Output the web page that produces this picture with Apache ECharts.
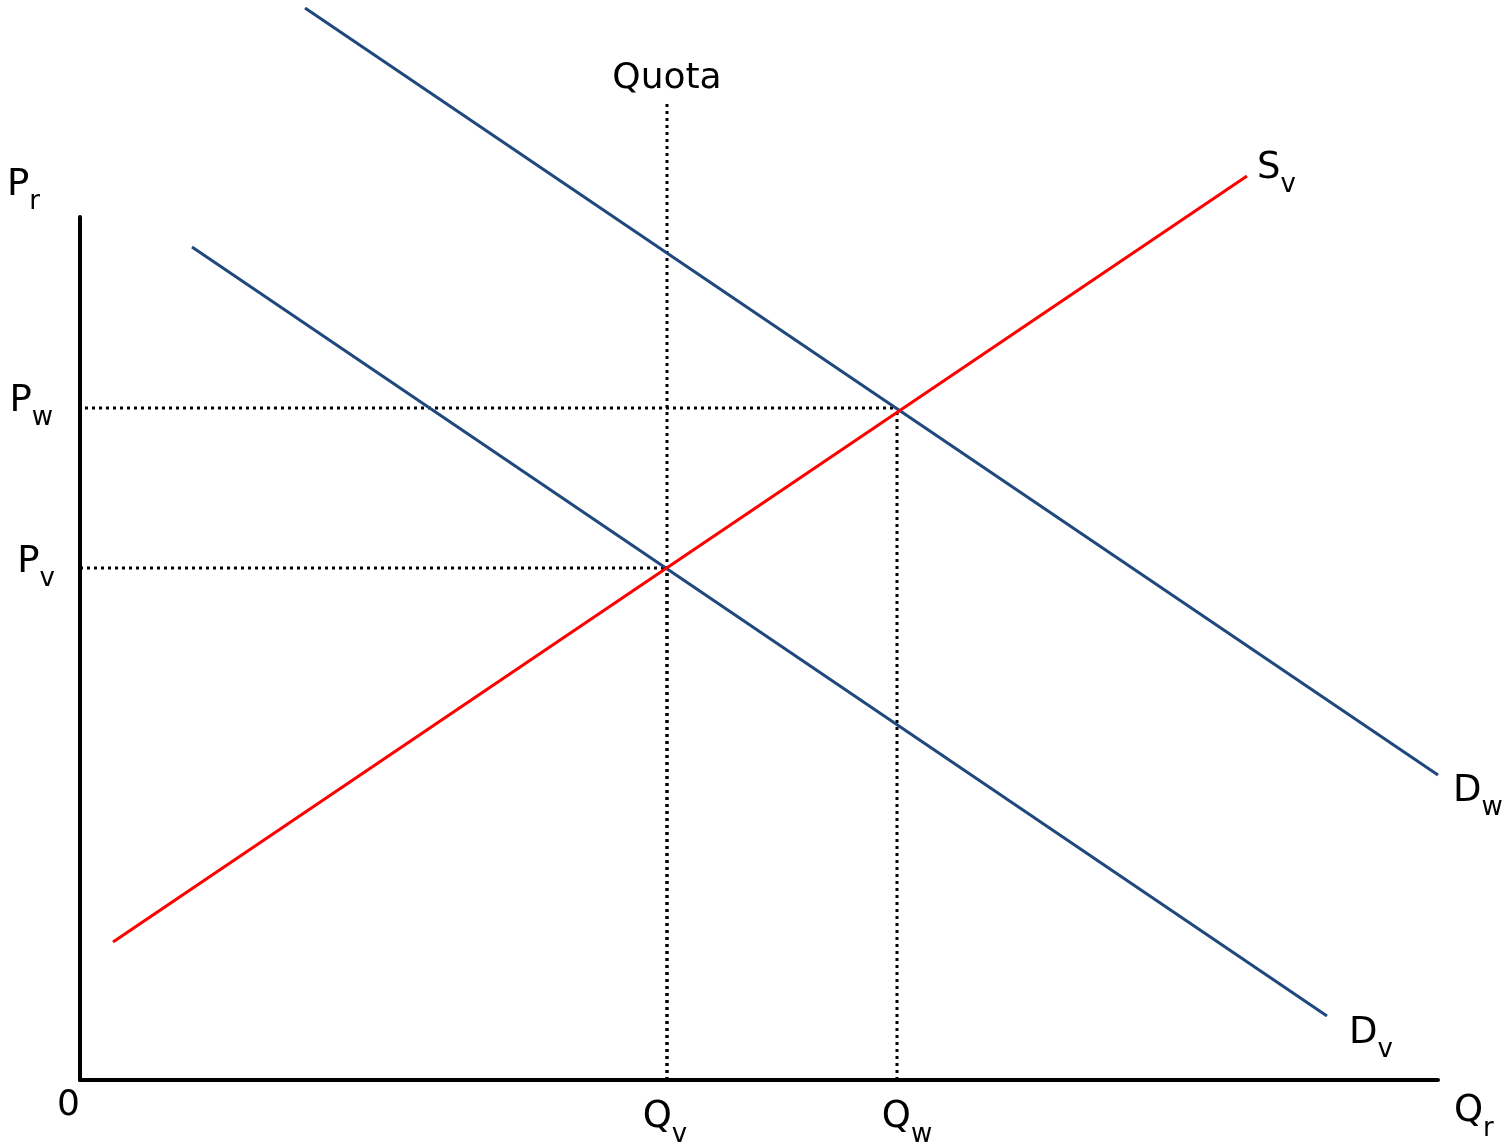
<!DOCTYPE html>
<html>
<head>
<meta charset="utf-8">
<script src="https://cdn.jsdelivr.net/npm/echarts@6/dist/echarts.min.js"></script>
<style>
  html, body { margin: 0; padding: 0; background: #fff; }
  #chart { width: 1505px; height: 1144px; }
</style>
</head>
<body>
<div id="chart"></div>
<script>
// axis ranges (quantity, price)
const qMax = 1358;
const pMax = 863;

// curves, as [quantity, price] end points
const demandWorld = [[225, 1072], [1358, 305]];
const demandVn = [[112, 833], [1247, 64]];
const supplyVn = [[33, 138], [1167, 904]];

// reference levels
const qQuota = 587;
const qWorld = 817;
const pWorld = 672;
const pVn = 512;
const quotaTop = 977;

const blue = "#1f487c";
const red = "#ff0000";
const font = "DejaVu Sans";

// main letter + subscript: main sits at the top of the line, subscript at the bottom
function sub(main, s) {
  return "{m|" + main + "}{s|" + s + "}";
}
const rich = {
  m: { fontSize: 37, fontFamily: font, color: "#000", lineHeight: 40, verticalAlign: "top" },
  s: { fontSize: 26, fontFamily: font, color: "#000", lineHeight: 49, verticalAlign: "bottom" },
};

function endLabel(text, pos, dist, offset) {
  return { show: true, formatter: text, position: pos, distance: dist, offset: offset, rich: rich };
}

function solid(name, data, color, label) {
  return {
    name: name,
    type: "line",
    data: [{ value: data[0], label: { show: false } }, { value: data[1], label: label }],
    symbol: "circle",
    symbolSize: 0.01,
    showSymbol: true,
    clip: false,
    silent: true,
    itemStyle: { color: color },
    lineStyle: { color: color, width: 3 },
    z: 3,
  };
}

function dotted(name, data) {
  return {
    name: name,
    type: "line",
    data: data,
    symbol: "circle",
    symbolSize: 0.01,
    showSymbol: true,
    clip: false,
    silent: true,
    itemStyle: { color: "#000" },
    lineStyle: { color: "#000", width: 3, type: [3, 4] },
    z: 2,
  };
}

const chart = echarts.init(document.getElementById("chart"));

chart.setOption({
  animation: false,
  backgroundColor: "#fff",
  grid: { left: 80, right: 67, top: 217, bottom: 64 },
  xAxis: {
    type: "value",
    min: 0,
    max: qMax,
    splitLine: { show: false },
    axisTick: { show: false },
    axisLine: { lineStyle: { color: "#000", width: 4 } },
    axisLabel: {
      customValues: [0],
      formatter: "0",
      align: "right",
      margin: 8,
      fontSize: 36,
      fontFamily: font,
      color: "#000",
    },
    name: sub("Q", "r"),
    nameLocation: "end",
    nameGap: 16,
    nameTextStyle: { rich: rich, verticalAlign: "top", padding: [13, 0, 0, 0] },
  },
  yAxis: {
    type: "value",
    min: 0,
    max: pMax,
    splitLine: { show: false },
    axisTick: { show: false },
    axisLabel: { show: false },
    axisLine: { lineStyle: { color: "#000", width: 4 } },
    name: sub("P", "r"),
    nameLocation: "end",
    nameGap: 26,
    nameTextStyle: { rich: rich, align: "right", verticalAlign: "middle", padding: [0, 40, 0, 0] },
  },
  series: [
    dotted("Quota", [{ value: [qQuota, 0] }, { value: [qQuota, quotaTop], label: { show: true, position: "top", distance: 6, formatter: "Quota", fontSize: 36, fontFamily: font, color: "#000" } }]),
    dotted("Qv", [{ value: [qQuota, 0], label: endLabel(sub("Q", "v"), "bottom", 19, [-2, 0]) }, { value: [qQuota, pVn] }]),
    dotted("Qw", [{ value: [qWorld, 0], label: endLabel(sub("Q", "w"), "bottom", 19, [10, 0]) }, { value: [qWorld, pWorld] }]),
    dotted("Pw", [{ value: [5, pWorld], label: endLabel(sub("P", "w"), "left", 30, [-2, -1]) }, { value: [qWorld, pWorld] }]),
    dotted("Pv", [{ value: [0, pVn], label: endLabel(sub("P", "v"), "left", 25, [0, 0]) }, { value: [qQuota, pVn] }]),
    solid("Dw", demandWorld, blue, endLabel(sub("D", "w"), "right", 15, [0, 22])),
    solid("Dv", demandVn, blue, endLabel(sub("D", "v"), "right", 22, [0, 23])),
    solid("Sv", supplyVn, red, endLabel(sub("S", "v"), "right", 10, [0, -2])),
  ],
});
</script>
</body>
</html>
